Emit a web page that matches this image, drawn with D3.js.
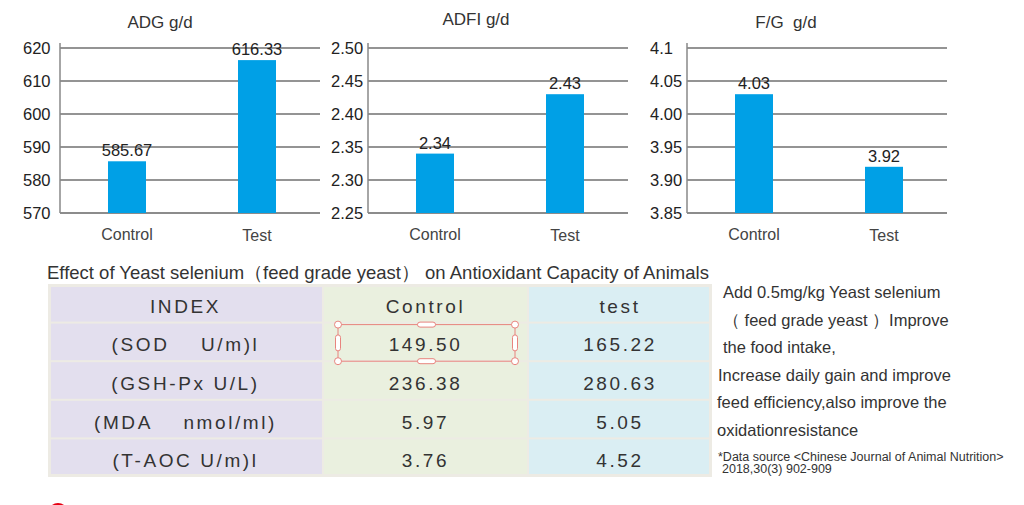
<!DOCTYPE html>
<html>
<head>
<meta charset="utf-8">
<script src="https://cdn.jsdelivr.net/npm/d3@7"></script>
<style>
  body { margin: 0; background: #fff; }
  svg { display: block; font-family: "Liberation Sans", Arial, sans-serif; }
</style>
</head>
<body>
<svg id="chart" width="1024" height="505"></svg>
<script>
const categories = ["Control", "Test"];
const adgValues = [585.67, 616.33];
const adfiValues = [2.34, 2.43];
const fgValues = [4.03, 3.92];
const adgTicks = [570, 580, 590, 600, 610, 620];
const adfiTicks = [2.25, 2.30, 2.35, 2.40, 2.45, 2.50];
const fgTicks = [3.85, 3.90, 3.95, 4.00, 4.05, 4.10];
const adgTickLabels = ["570", "580", "590", "600", "610", "620"];
const adfiTickLabels = ["2.25", "2.30", "2.35", "2.40", "2.45", "2.50"];
const fgTickLabels = ["3.85", "3.90", "3.95", "4.00", "4.05", "4.1"];
const adgLabels = ["585.67", "616.33"];
const adfiLabels = ["2.34", "2.43"];
const fgLabels = ["4.03", "3.92"];

const tableTitle = "Effect of Yeast selenium（feed grade yeast） on Antioxidant Capacity of Animals";
const tableHeader = ["INDEX", "Control", "test"];
const indexLabels = ["(SOD    U/m)l", "(GSH-Px U/L)", "(MDA    nmol/ml)", "(T-AOC U/m)l"];
const controlValues = ["149.50", "236.38", "5.97", "3.76"];
const testValues = ["165.22", "280.63", "5.05", "4.52"];

const noteLines = [
    "Add 0.5mg/kg Yeast selenium",
    "（ feed grade yeast ）Improve",
    "the food intake,",
    "Increase daily gain and improve",
    "feed efficiency,also improve the",
    "oxidationresistance"
];
const sourceLines = ["*Data source <Chinese Journal of Animal Nutrition>", "2018,30(3) 902-909"];

const svg = d3.select("#chart");

const panels = [
    {title: "ADG g/d", values: adgValues, labels: adgLabels, ticks: adgTicks, tickLabels: adgTickLabels, left: 60, titleX: 160, titleY: 28},
    {title: "ADFI g/d", values: adfiValues, labels: adfiLabels, ticks: adfiTicks, tickLabels: adfiTickLabels, left: 368, titleX: 476, titleY: 25},
    {title: "F/G  g/d", values: fgValues, labels: fgLabels, ticks: fgTicks, tickLabels: fgTickLabels, left: 687, titleX: 786, titleY: 28}
];

const plotTop = 48, plotBottom = 213, plotW = 260, barW = 38;

panels.forEach(p => {
    const g = svg.append("g");
    const x = d3.scalePoint().domain(categories).range([p.left + 2, p.left + plotW + 2]).padding(0.5);
    const y = d3.scaleLinear().domain([p.ticks[0], p.ticks[p.ticks.length - 1]]).range([plotBottom, plotTop]);

    g.append("text")
        .attr("x", p.titleX).attr("y", p.titleY)
        .attr("text-anchor", "middle")
        .attr("font-size", 17).attr("fill", "#333")
        .style("white-space", "pre")
        .text(p.title);

    // gridlines
    g.append("g")
        .selectAll("line")
        .data(p.ticks)
        .join("line")
        .attr("x1", p.left).attr("x2", p.left + plotW)
        .attr("y1", d => y(d)).attr("y2", d => y(d))
        .attr("stroke", (d, i) => i === 0 ? "#666" : "#2a2a2a")
        .attr("stroke-width", (d, i) => i === 0 ? 1.6 : 1.2);

    // axis
    const axis = g.append("g")
        .attr("transform", `translate(${p.left},0)`)
        .call(d3.axisLeft(y).tickValues(p.ticks).tickSize(0).tickFormat((d, i) => p.tickLabels[i]));
    axis.select(".domain").remove();
    axis.selectAll(".tick text")
        .attr("x", -37)
        .attr("text-anchor", "start")
        .attr("font-size", 16.5)
        .attr("font-family", "Liberation Sans, Arial, sans-serif")
        .attr("fill", "#222");
    g.append("line")
        .attr("x1", p.left).attr("x2", p.left)
        .attr("y1", plotTop - 5).attr("y2", plotBottom)
        .attr("stroke", "#888").attr("stroke-width", 1.5);

    g.append("g")
        .selectAll("rect")
        .data(p.values)
        .join("rect")
        .attr("x", (d, i) => x(categories[i]) - barW / 2)
        .attr("width", barW)
        .attr("y", d => y(d))
        .attr("height", d => plotBottom - y(d))
        .attr("fill", "#00A0E6");

    g.append("g")
        .selectAll("text")
        .data(p.values)
        .join("text")
        .attr("x", (d, i) => x(categories[i]))
        .attr("y", d => y(d) - 5)
        .attr("text-anchor", "middle")
        .attr("font-size", 16.5).attr("fill", "#222")
        .text((d, i) => p.labels[i]);

    g.append("g")
        .selectAll("text")
        .data(categories)
        .join("text")
        .attr("x", d => x(d))
        .attr("y", (d, i) => i === 0 ? 240 : 241)
        .attr("text-anchor", "middle")
        .attr("font-size", 16).attr("fill", "#444")
        .text(d => d);
});

// table
svg.append("text")
    .attr("x", 47).attr("y", 279)
    .attr("font-size", 18.5).attr("fill", "#333")
    .text(tableTitle);

const colEdges = [48, 323, 528, 712];
const colFills = ["#E3DFEE", "#EAF0DF", "#DAEEF3"];
const rowCount = indexLabels.length + 1;
const rowY = d3.scaleBand().domain(d3.range(rowCount)).range([284, 477]);

svg.append("rect")
    .attr("x", colEdges[0]).attr("y", 284)
    .attr("width", colEdges[3] - colEdges[0]).attr("height", 193)
    .attr("fill", "#EDEBE4");

const rows = [tableHeader].concat(indexLabels.map((l, i) => [l, controlValues[i], testValues[i]]));

rows.forEach((row, r) => {
    row.forEach((cell, c) => {
        const x0 = colEdges[c] + (c === 0 ? 3 : 1);
        const x1 = colEdges[c + 1] - (c === 2 ? 3 : 1);
        const y0 = rowY(r) + (r === 0 ? 3 : 1);
        const y1 = rowY(r) + rowY.bandwidth() - (r === rowCount - 1 ? 3 : 1);
        svg.append("rect")
            .attr("x", x0).attr("y", y0)
            .attr("width", x1 - x0).attr("height", y1 - y0)
            .attr("fill", colFills[c]);
        svg.append("text")
            .attr("x", (colEdges[c] + colEdges[c + 1]) / 2)
            .attr("y", rowY(r) + rowY.bandwidth() / 2 + 9.5)
            .attr("text-anchor", "middle")
            .attr("font-size", 19)
            .attr("letter-spacing", 2.6)
            .attr("fill", "#333")
            .style("white-space", "pre")
            .text(cell);
    });
});

// selection handles around first control cell
const sel = {x0: 338, x1: 515, y0: rowY(1) + 2, y1: rowY(1) + rowY.bandwidth()};
const selG = svg.append("g").attr("stroke", "#E8847E").attr("stroke-width", 1).attr("fill", "#fff");
selG.append("rect")
    .attr("x", sel.x0).attr("y", sel.y0)
    .attr("width", sel.x1 - sel.x0).attr("height", sel.y1 - sel.y0)
    .attr("fill", "none");
[[sel.x0, sel.y0], [sel.x1, sel.y0], [sel.x0, sel.y1], [sel.x1, sel.y1]].forEach(([cx, cy]) => {
    selG.append("circle").attr("cx", cx).attr("cy", cy).attr("r", 3.5);
});
const mx = (sel.x0 + sel.x1) / 2, my = (sel.y0 + sel.y1) / 2;
[[mx - 9, sel.y0 - 2.5, 18, 5], [mx - 9, sel.y1 - 2.5, 18, 5], [sel.x0 - 2.5, my - 8, 5, 16], [sel.x1 - 2.5, my - 8, 5, 16]].forEach(([rx, ry, w, h]) => {
    selG.append("rect").attr("x", rx).attr("y", ry).attr("width", w).attr("height", h).attr("rx", 2.5);
});

// notes
const noteX = [723, 723, 723, 718, 717, 717];
svg.append("g")
    .selectAll("text")
    .data(noteLines)
    .join("text")
    .attr("x", (d, i) => noteX[i])
    .attr("y", (d, i) => 298 + i * 27.5)
    .attr("font-size", 16.5).attr("fill", "#333")
    .style("white-space", "pre")
    .text(d => d);

svg.append("g")
    .selectAll("text")
    .data(sourceLines)
    .join("text")
    .attr("x", (d, i) => i === 0 ? 718 : 722)
    .attr("y", (d, i) => 461 + i * 12)
    .attr("font-size", 12.5).attr("fill", "#333")
    .text(d => d);

svg.append("circle")
    .attr("cx", 58).attr("cy", 513).attr("r", 10)
    .attr("fill", "#E60012");
</script>
</body>
</html>
